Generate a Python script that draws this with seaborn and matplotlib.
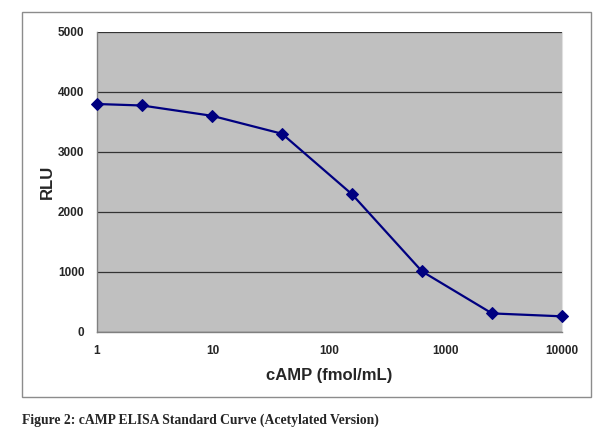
import matplotlib
matplotlib.use("Agg")
import matplotlib.pyplot as plt
import seaborn as sns
import pandas as pd
from matplotlib.patches import Rectangle

# standard curve points (4-fold dilutions)
camp = [1, 2.44, 9.77, 39.06, 156.25, 625, 2500, 10000]
rlu = [3800, 3775, 3603, 3304, 2295, 1010, 310, 261]
x_ticks = [1, 10, 100, 1000, 10000]
y_ticks = [0, 1000, 2000, 3000, 4000, 5000]

df = pd.DataFrame({"cAMP": camp, "RLU": rlu})

sns.set_style("white")
plt.rcParams["font.family"] = ["Liberation Sans", "DejaVu Sans"]

fig = plt.figure(figsize=(6, 4.33), dpi=100)
ax = fig.add_axes([97 / 600, 1 - 332 / 433, 465 / 600, 300 / 433])
ax.set_facecolor("#c0c0c0")

sns.lineplot(data=df, x="cAMP", y="RLU", ax=ax, color="#000080", linewidth=1.6,
             marker="D", markersize=6, markeredgecolor="#000080", zorder=3,
             clip_on=False)

ax.set_xscale("log")
ax.set_xlim(1, 10000)
ax.set_ylim(0, 5000)
ax.set_xticks(x_ticks)
ax.set_xticklabels([str(t) for t in x_ticks])
ax.minorticks_off()
ax.set_yticks(y_ticks)
ax.yaxis.grid(True, color="#333333", linewidth=0.9)
ax.xaxis.grid(False)
ax.set_axisbelow(True)

for s in ["left", "bottom"]:
    ax.spines[s].set_color("#808080")
    ax.spines[s].set_linewidth(1)
ax.spines["top"].set_visible(False)
ax.spines["right"].set_color("#e0e0e0")

ax.tick_params(axis="both", direction="out", length=4, width=1, color="#808080",
               labelsize=8.5, pad=5)
for lbl in ax.get_xticklabels() + ax.get_yticklabels():
    lbl.set_fontweight("bold")

ax.set_xlabel("cAMP (fmol/mL)", fontsize=12, fontweight="bold", labelpad=8)
ax.set_ylabel("RLU", fontsize=12, fontweight="bold", labelpad=2)

# outer chart frame
fig.patches.append(Rectangle((22 / 600, 1 - 397 / 433), 569 / 600, 385 / 433,
                             transform=fig.transFigure, fill=False,
                             edgecolor="#8c8c8c", linewidth=1))

fig.text(22 / 600, 1 - 420 / 433, "Figure 2: cAMP ELISA Standard Curve (Acetylated Version)",
         fontsize=9.8, fontweight="bold", family=["Liberation Serif", "DejaVu Serif"],
         va="center", ha="left")

fig.savefig("out.png", dpi=100)
